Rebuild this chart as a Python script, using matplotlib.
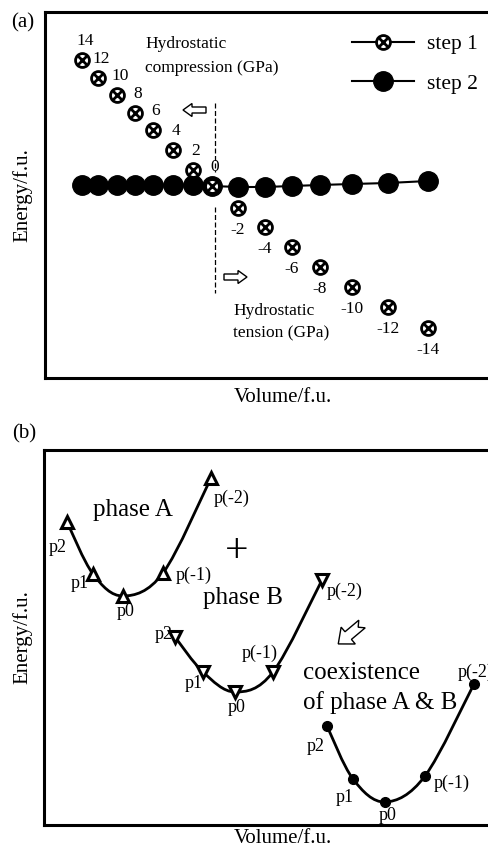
import matplotlib
matplotlib.use("Agg")
import matplotlib.pyplot as plt
import matplotlib.patches as mpatches
from matplotlib.lines import Line2D
from matplotlib.path import Path
from matplotlib.legend_handler import HandlerTuple
import matplotlib.transforms as mtransforms
import numpy as np

plt.rcParams["font.family"] = ["Liberation Serif", "DejaVu Serif"]

# ---- panel (a): energy vs volume under hydrostatic pressure (arbitrary units)
volume_a = [37, 53, 72, 90, 108, 128, 148, 167, 193, 220, 247, 275, 307, 343, 383]
energy_step1 = [318, 300, 283, 265, 248, 228, 208, 192, 170, 151, 131, 111, 91, 71, 50]
energy_step2 = [193, 193, 193, 193, 193, 193, 193, 192, 191, 191, 192, 193, 194, 195, 197]
pressure_gpa = [14, 12, 10, 8, 6, 4, 2, 0, -2, -4, -6, -8, -10, -12, -14]

# ---- panel (b): three E-V curves, points p2 .. p(-2)
point_names = ["p2", "p1", "p0", "p(-1)", "p(-2)"]
volume_A = [23, 49, 79, 119, 167]
energy_A = [303, 251, 229, 252, 347]
volume_B = [131, 159, 191, 229, 278]
energy_B = [188, 153, 133, 153, 245]
volume_AB = [283, 309, 341, 381, 430]
energy_AB = [99, 46, 23, 49, 141]

W, H = 489, 855
fig = plt.figure(figsize=(W / 100, H / 100), dpi=100)


def px_axes(left, top, bottom):
    ax = fig.add_axes([left / W, 1 - bottom / H, (W - left) / W, (bottom - top) / H])
    ax.set_xlim(0, W - left); ax.set_ylim(0, bottom - top)
    ax.set_xticks([]); ax.set_yticks([])
    ax.spines["right"].set_visible(False)
    for s in ("left", "top", "bottom"):
        ax.spines[s].set_linewidth(2.2)
    return ax


def smooth(ax, xs, ys, **kw):
    # Catmull-Rom drawn as cubic Bezier segments
    P = np.column_stack([xs, ys]).astype(float)
    Q = np.vstack([P[0], P, P[-1]])
    verts = [P[0]]; codes = [Path.MOVETO]
    for i in range(1, len(Q) - 2):
        c1 = Q[i] + (Q[i + 1] - Q[i - 1]) / 6
        c2 = Q[i + 1] - (Q[i + 2] - Q[i]) / 6
        verts += [c1, c2, Q[i + 1]]; codes += [Path.CURVE4] * 3
    ax.add_patch(mpatches.PathPatch(Path(verts, codes), fill=False, **kw))


# ================= (a)
ax = px_axes(45, 12, 378)
ax.plot(volume_a, energy_step2, color="k", lw=1.5, marker="o", ms=14, zorder=3)
ax.plot(volume_a, energy_step1, ls="none", marker="o", mfc="white", mec="k",
        ms=10, mew=2, zorder=4)
ax.plot(volume_a, energy_step1, ls="none", marker="x", color="k", ms=7, mew=2, zorder=5)
for v, e, p in zip(volume_a, energy_step1, pressure_gpa):
    off = (2, 14) if p >= 0 else (0, -16)
    ax.annotate(str(p), (v, e), xytext=off, textcoords="offset points",
                ha="center", va="center", fontsize=12.5)

ax.plot([170, 170], [275, 206], color="k", lw=0.9, ls=(0, (4, 2)))
ax.plot([170, 170], [171, 85], color="k", lw=0.9, ls=(0, (4, 2)))
ax.add_patch(mpatches.FancyArrow(161, 268, -23, 0, width=6, head_width=13,
                                 head_length=9, length_includes_head=True,
                                 fc="white", ec="k", lw=1))
ax.add_patch(mpatches.FancyArrow(179, 101, 23, 0, width=6, head_width=13,
                                 head_length=9, length_includes_head=True,
                                 fc="white", ec="k", lw=1))
ax.text(100, 322, "Hydrostatic\ncompression (GPa)", ha="left", va="center",
        fontsize=12.5, linespacing=1.6)
ax.text(188, 56, "Hydrostatic\ntension (GPa)", ha="left", va="center",
        fontsize=12.5, linespacing=1.55)

h1 = (Line2D([], [], color="k", lw=1.5, marker="o", mfc="white", mec="k", ms=10, mew=2),
      Line2D([], [], ls="none", marker="x", color="k", ms=7, mew=2))
h2 = Line2D([], [], color="k", lw=1.5, marker="o", ms=14)
ax.legend([h1, h2], ["step 1", "step 2"], handler_map={tuple: HandlerTuple(ndivide=1)},
          loc="upper left", bbox_to_anchor=(352 / W, 1 - 34 / H),
          bbox_transform=fig.transFigure, frameon=False, fontsize=15.5,
          handlelength=2.9, handletextpad=0.6, labelspacing=0.9,
          borderpad=0, borderaxespad=0)

# ================= (b)
bx = px_axes(44, 450, 825)
smooth(bx, volume_A, energy_A, color="k", lw=2, zorder=2)
smooth(bx, volume_B, energy_B, color="k", lw=2, zorder=2)
smooth(bx, volume_AB, energy_AB, color="k", lw=2, zorder=2)
bx.plot(volume_A, energy_A, ls="none", marker="^", mfc="white", mec="k", ms=8, mew=2.2, zorder=3)
bx.plot(volume_B, energy_B, ls="none", marker="v", mfc="white", mec="k", ms=8, mew=2.2, zorder=3)
bx.plot(volume_AB, energy_AB, ls="none", marker="o", color="k", ms=7, zorder=3)

# label offsets (points) for p2, p1, p0, p(-1), p(-2)
lab_A = [(-6.5, -18), (-9.5, -6.5), (2, -11.5), (22, -2), (14.5, -14.5)]
lab_B = [(-8.5, 2), (-6.5, -8), (1.5, -11.5), (-9.5, 13.5), (16, -8.5)]
lab_AB = [(-8, -14.5), (-6, -13.5), (2, -10), (19, -5), (-12, 8.5)]
for xs, ys, offs, last_left in ((volume_A, energy_A, lab_A, False),
                                (volume_B, energy_B, lab_B, False),
                                (volume_AB, energy_AB, lab_AB, True)):
    for k, (v, e, name, o) in enumerate(zip(xs, ys, point_names, offs)):
        ha = "left" if (last_left and k == 4) else "center"
        bx.annotate(name, (v, e), xytext=o, textcoords="offset points",
                    ha=ha, va="center", fontsize=13, annotation_clip=False)

bx.text(49, 315, "phase A", ha="left", va="center", fontsize=18)
bx.text(159, 227, "phase B", ha="left", va="center", fontsize=18)
bx.text(193, 273, "+", ha="center", va="center", fontsize=30, fontweight="light")
bx.text(259, 137, "coexistence\nof phase A & B", ha="left", va="center",
        fontsize=18, linespacing=1.4)

arr = np.array([[0, 5], [18, 5], [18, 11], [31, 0], [18, -11], [18, -5], [0, -5], [5, 0]], float)
tr = mtransforms.Affine2D().rotate_deg(-140).translate(318, 201) + bx.transData
bx.add_patch(mpatches.Polygon(arr, closed=True, fc="white", ec="k", lw=1, transform=tr))

# ================= shared labels
fig.text(23 / W, 1 - 23 / H, "(a)", ha="center", va="center", fontsize=15)
fig.text(24 / W, 1 - 434 / H, "(b)", ha="center", va="center", fontsize=15)
for yc in (195, 637):
    fig.text(22 / W, 1 - yc / H, "Energy/f.u.", rotation=90, ha="center", va="center", fontsize=15)
for yc in (397, 838):
    fig.text(283 / W, 1 - yc / H, "Volume/f.u.", ha="center", va="center", fontsize=15)

fig.savefig("out.png", dpi=100)
